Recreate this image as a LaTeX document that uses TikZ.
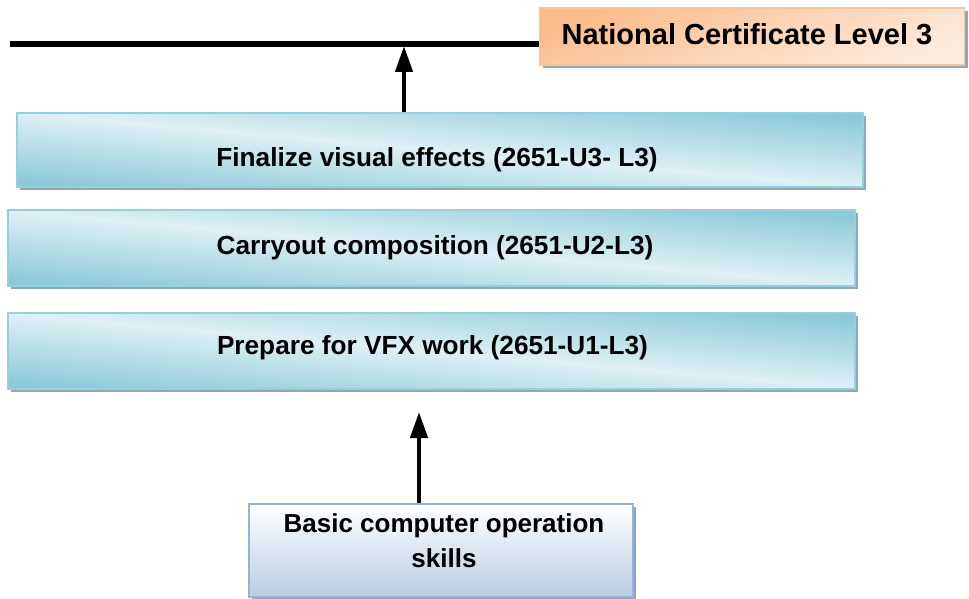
\documentclass[tikz,border=0pt]{standalone}
\usepackage{fontspec}
\setmainfont{Liberation Sans}
\usetikzlibrary{positioning, arrows.meta, shadows, calc}
\definecolor{AquaDark}{RGB}{140,201,217}
\definecolor{AquaLight}{RGB}{221,240,245}
\definecolor{AquaEdge}{RGB}{150,208,222}
\definecolor{BoxShade}{RGB}{146,168,176}
\definecolor{PeachDark}{RGB}{250,188,140}
\definecolor{PeachLight}{RGB}{254,236,222}
\definecolor{PeachEdge}{RGB}{249,196,150}
\definecolor{SkyLow}{RGB}{184,204,228}
\definecolor{SkyEdge}{RGB}{149,179,215}
\definecolor{SkyShade}{RGB}{140,164,198}

\begin{document}
\begin{tikzpicture}[x=1pt, y=-1pt,
          unit/.style={rectangle, draw=AquaEdge, line width=1.5pt,
                       top color=AquaDark, bottom color=AquaDark,
                       middle color=AquaLight, shading angle=-5,
                       minimum width=847pt, minimum height=76pt, inner sep=0pt,
                       drop shadow={shadow xshift=3pt, shadow yshift=-3pt,
                                    fill=BoxShade, opacity=1}},
          unitlbl/.style={inner sep=0pt, anchor=base,
                          font=\bfseries\fontsize{26.2}{30}\selectfont},
          cert/.style={rectangle, draw=PeachEdge, line width=1.5pt,
                       top color=PeachDark, bottom color=PeachLight,
                       shading angle=20, minimum width=425pt,
                       minimum height=57pt, inner sep=0pt,
                       drop shadow={shadow xshift=3pt, shadow yshift=-3pt,
                                    fill=BoxShade, opacity=1}},
          entry/.style={rectangle, draw=SkyEdge, line width=1.5pt,
                        top color=white, bottom color=SkyLow,
                        minimum width=384pt, minimum height=93pt, inner sep=0pt,
                        drop shadow={shadow xshift=3pt, shadow yshift=-3pt,
                                     fill=SkyShade, opacity=1}},
          arr/.style={-{Triangle[length=26pt, width=17pt]}, line width=4.5pt}
        ]
        \useasboundingbox (0,0) rectangle (969,599);

        % qualification bar
        \coordinate (barL) at (10,44);
        \coordinate (barR) at (541,44);
        \draw[line width=5.5pt] (barL) -- (barR);
        \node[cert] (natcert) at (752,36.5) {};
        \node[inner sep=0pt, anchor=base, font=\bfseries\fontsize{29}{33}\selectfont]
             (natlbl) at (747,45) {National Certificate Level 3};

        % unit standards
        \node[unit, minimum width=846pt, minimum height=74pt] (fin) at (440,150) {};
        \node[unitlbl] (finlbl) at (437,167) {Finalize visual effects (2651-U3- L3)};
        \node[unit] (carry) at (431.5,248) {};
        \node[unitlbl] (carrylbl) at (435,254) {Carryout composition (2651-U2-L3)};
        \node[unit] (prep) at (431.5,351) {};
        \node[unitlbl] (preplbl) at (432.5,354) {Prepare for VFX work (2651-U1-L3)};

        % entry requirement
        \node[entry] (basic) at (441,550.5) {};
        \node[inner sep=0pt, align=center,
              font=\bfseries\fontsize{26}{35}\selectfont]
             (basiclbl) at (444,541) {Basic computer operation\\skills};

        % arrows
        \coordinate (tipA) at (404,46);
        \draw[arr] (fin.north -| tipA) -- (tipA);
        \coordinate (tipB) at (419,412);
        \draw[arr] (basic.north -| tipB) -- (tipB);
      \end{tikzpicture}
\end{document}
